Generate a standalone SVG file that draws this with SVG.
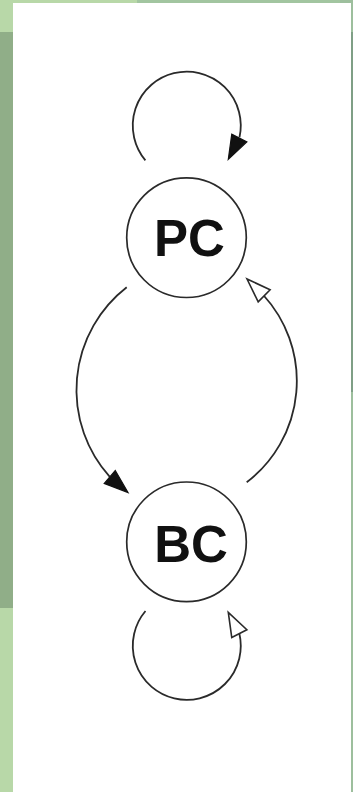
<svg xmlns="http://www.w3.org/2000/svg" width="353" height="792" viewBox="0 0 353 792">
  <defs>
    <style>
      .node { fill: #ffffff; stroke: #2a2a2a; stroke-width: 1.7; }
      .label { font-family: "Liberation Sans", Arial, sans-serif; font-weight: bold; font-size: 51px; fill: #111111; text-anchor: middle; }
      .edge { fill: none; stroke: #2a2a2a; stroke-width: 1.8; }
      .head-solid { fill: #111111; stroke: #111111; stroke-width: 1.2; stroke-linejoin: miter; }
      .head-open { fill: #ffffff; stroke: #2a2a2a; stroke-width: 1.6; stroke-linejoin: miter; }
    </style>
    <!-- arrowhead with its tip at the origin, pointing along +x -->
    <path id="arrowhead" d="M0,0 L-24,-8.5 L-24,8.5 Z"/>
  </defs>

  <!-- frame -->
  <g id="frame">
    <rect x="0" y="0" width="353" height="792" fill="#9dbf9d"/>
    <rect x="0" y="0" width="137" height="3" fill="#b8d8a8"/>
    <rect x="137" y="0" width="203" height="3" fill="#a2c5a0"/>
    <rect x="0" y="0" width="13" height="32" fill="#b8d8a8"/>
    <rect x="0" y="32" width="13" height="576" fill="#90ae88"/>
    <rect x="0" y="608" width="13" height="184" fill="#b8d8a8"/>
    <rect x="351" y="32" width="2" height="360" fill="#7f9f86"/>
    <rect x="13" y="3" width="338" height="789" fill="#ffffff"/>
  </g>

  <!-- transitions -->
  <g id="connectors">
    <!-- PC self-loop -->
    <path class="edge" d="M145.4,160.3 A54,54 0 1 1 239.5,137.2"/>
    <use href="#arrowhead" class="head-solid" transform="translate(228.3,159.3) rotate(117.3)"/>
    <!-- PC to BC -->
    <path class="edge" d="M126.7,287.3 A130,130 0 0 0 109.8,476.9"/>
    <use href="#arrowhead" class="head-solid" transform="translate(128,492.5) rotate(40.5)"/>
    <!-- BC to PC -->
    <path class="edge" d="M246.7,482.3 A127.3,127.3 0 0 0 263.3,295"/>
    <use href="#arrowhead" class="head-open" transform="translate(247,279) rotate(-135.6)"/>
    <!-- BC self-loop -->
    <path class="edge" d="M145.5,611 A54,54 0 1 0 239.3,633.3"/>
    <use href="#arrowhead" class="head-open" transform="translate(228.3,612.3) rotate(-117.3)"/>
  </g>

  <g id="node-PC">
    <circle class="node" cx="186.5" cy="237.7" r="59.8"/>
    <text class="label" x="189.5" y="255.5">PC</text>
  </g>

  <g id="node-BC">
    <circle class="node" cx="186.5" cy="541.8" r="59.8"/>
    <text class="label" x="191" y="561.5">BC</text>
  </g>
</svg>
